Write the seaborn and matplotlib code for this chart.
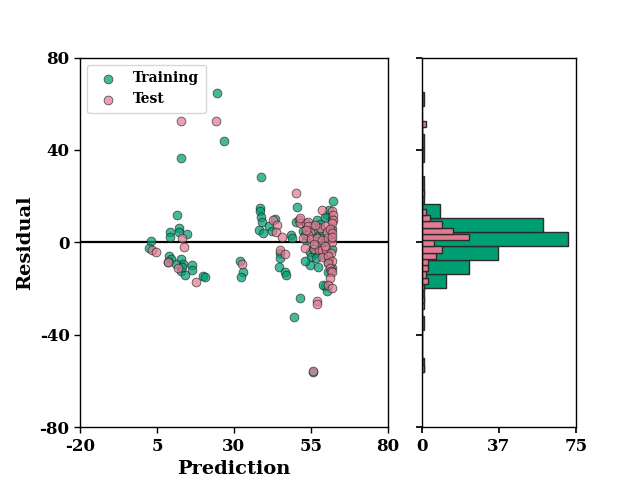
import numpy as np
import pandas as pd
import matplotlib
matplotlib.use("Agg")
import matplotlib.pyplot as plt
import seaborn as sns

# ---------------- data ----------------
train_x = [26.8, 24.5, 12.8, 11.6, 9.2, 9.2, 12.2, 12.2, 14.8, 3.05, 2.5, 9.0, 9.5, 8.5,
           12.8, 13.5, 16.5, 16.3, 12.7, 14.1, 20.1, 20.6, 31.9, 33.0, 32.3, 11.2, 13.0,
           38.8, 38.4, 38.4, 38.8, 39.0, 38.1, 39.3, 43.3, 41.5, 42.5, 48.7, 48.9, 44.9,
           44.9, 44.7, 46.6, 46.8, 51.4, 49.6, 55.7,
           50.6, 62.2, 50.3, 60.1, 59.5, 57.0, 58.0, 56.3, 55.7, 54.7, 56.3, 55.2, 56.8,
           54.7, 57.4, 61.7, 60.5, 59.5, 59.0, 60.1, 53.0, 58.3, 61.5, 62.0, 60.0, 53.5,
           52.5, 57.5, 59.0, 61.0, 62.0, 55.0, 53.0, 58.5, 60.5, 62.0, 61.0]
train_y = [43.7, 64.8, 36.5, 11.8, 4.7, 2.5, 6.1, 4.7, 3.5, 0.8, -2.5, -5.9, -7.3, -8.3,
           -7.3, -9.3, -9.8, -11.9, -12.4, -14.1, -14.4, -15.1, -8.0, -12.7, -14.8, -9.5, -10.5,
           28.3, 14.8, 13.4, 11.2, 9.0, 5.4, 4.0, 10.1, 6.9, 5.0, 3.3, 2.0, -4.7,
           -6.9, -10.5, -12.7, -14.1, -24.2, -32.1, -56.0,
           15.3, 18.0, 9.0, 11.9, 11.0, 9.5, 8.0, 4.0, -2.5, -4.0, -4.7, -6.2, -6.9,
           -9.8, -10.5, -11.2, -13.0, -18.9, -18.4, -21.0, -8.0, -1.0, 2.0, 6.0, 0.5, 1.0,
           5.0, 3.0, -5.5, -7.0, -3.0, 7.0, 3.0, 5.5, -9.0, 10.0, 14.0]

test_x = [12.8, 24.2, 13.2, 13.8, 3.3, 4.7, 8.7, 11.7, 17.6, 32.5, 42.8, 43.9, 43.6, 45.7,
          44.9, 46.6, 50.1, 57.0, 57.0, 55.7,
          51.1, 51.4, 53.4, 58.7, 61.7, 62.2, 62.2, 62.0, 51.4, 54.1, 54.1, 54.7, 54.1,
          57.9, 59.5, 60.1, 61.2, 62.0, 52.5, 55.0, 57.0, 58.5, 60.6, 61.7, 53.0, 56.0,
          57.5, 58.5, 60.0, 61.5, 58.5, 60.6, 61.7, 60.6, 61.2, 61.5, 62.0, 61.2, 60.6,
          61.7, 56.0, 59.5, 53.5, 56.5, 62.0]
test_y = [52.7, 52.7, 1.8, -2.1, -3.3, -4.3, -8.6, -11.2, -17.3, -9.5, 9.8, 7.6, 4.7, 2.5,
          -3.3, -5.0, 21.3, -25.5, -26.8, -55.5,
          9.8, 8.3, 8.3, 14.1, 13.4, 11.9, 9.8, 8.3, 10.5, 9.0, 6.9, 4.7, 3.3,
          6.1, 6.9, 4.7, 6.0, 4.0, 2.0, 1.5, 2.0, 1.0, 1.8, 0.3, -2.5, -3.0,
          -3.5, -3.3, -3.5, -4.5, -6.2, -6.0, -8.0, -9.0, -11.2, -12.5, -13.0, -15.6, -18.4,
          -19.9, -0.5, -1.5, 5.5, 7.5, 2.5]

# histogram bins and counts (bottom to top)
train_bin_lo, train_bin_hi, train_nbins = -56.28, 65.12, 20
train_counts = [1, 0, 0, 1, 0, 1, 12, 23, 37, 71, 59, 9, 1, 1, 0, 1, 1, 0, 0, 1]
test_bin_lo, test_bin_hi, test_nbins = -56.0, 52.6, 40
test_counts = [1, 0, 0, 0, 0, 0, 0, 0, 0, 0, 1, 1, 0, 1, 3, 2, 3, 3, 7, 10,
               6, 23, 15, 10, 4, 2, 0, 0, 1, 0, 0, 0, 0, 0, 0, 0, 0, 0, 0, 2]

x_ticks = [-20, 5, 30, 55, 80]
y_ticks = [-80, -40, 0, 40, 80]
hist_ticks = [0, 37.5, 75]
hist_tick_labels = ["0", "37", "75"]

train_color = "#009E73"
test_color = "#E17B93"

# ---------------- plot ----------------
sns.set_theme(style="ticks")
plt.rcParams["font.family"] = ["DejaVu Serif"]
plt.rcParams["font.weight"] = "bold"
plt.rcParams["axes.labelweight"] = "bold"
plt.rcParams["axes.unicode_minus"] = False
plt.rcParams["text.color"] = "black"
plt.rcParams["axes.labelcolor"] = "black"
plt.rcParams["xtick.color"] = "black"
plt.rcParams["ytick.color"] = "black"

fig = plt.figure(figsize=(6.4, 4.8), dpi=100)
ax = fig.add_axes([0.125, 0.11, 0.481, 0.77])
hax = fig.add_axes([0.659, 0.11, 0.2406, 0.77], sharey=ax)

df_train = pd.DataFrame({"pred": train_x, "res": train_y})
df_test = pd.DataFrame({"pred": test_x, "res": test_y})

sns.scatterplot(data=df_train, x="pred", y="res", ax=ax, color=train_color, s=40,
                alpha=0.72, edgecolor="#222222", linewidth=0.6, label="Training")
sns.scatterplot(data=df_test, x="pred", y="res", ax=ax, color=test_color, s=40,
                alpha=0.72, edgecolor="#222222", linewidth=0.6, label="Test")
ax.axhline(0, color="black", lw=1.6, zorder=0)

ax.set_xlim(-20, 80)
ax.set_ylim(-80, 80)
ax.set_xticks(x_ticks)
ax.set_yticks(y_ticks)
ax.set_xlabel("Prediction", fontsize=14, fontweight="bold", color="black")
ax.set_ylabel("Residual", fontsize=14, fontweight="bold", color="black")
ax.tick_params(labelsize=12, direction="out", length=4, width=1, colors="black")
for lab in ax.get_xticklabels() + ax.get_yticklabels():
    lab.set_fontweight("bold")
for s in ax.spines.values():
    s.set_color("black")
    s.set_linewidth(1)

leg = ax.legend(loc="upper left", prop={"weight": "bold", "size": 10, "family": "DejaVu Serif"},
                frameon=True, fancybox=True, borderpad=0.5, handletextpad=0.8,
                labelcolor="black")
leg.get_frame().set_edgecolor("#cccccc")

train_edges = list(np.linspace(train_bin_lo, train_bin_hi, train_nbins + 1))
test_edges = list(np.linspace(test_bin_lo, test_bin_hi, test_nbins + 1))
df_htrain = pd.DataFrame({
    "res": [(train_edges[i] + train_edges[i + 1]) / 2 for i in range(train_nbins)],
    "count": train_counts})
df_htest = pd.DataFrame({
    "res": [(test_edges[i] + test_edges[i + 1]) / 2 for i in range(test_nbins)],
    "count": test_counts})

sns.histplot(data=df_htrain, y="res", weights="count", bins=train_edges, ax=hax,
             color=train_color, alpha=1.0, edgecolor="#2b2b2b", linewidth=1.0)
sns.histplot(data=df_htest, y="res", weights="count", bins=test_edges, ax=hax,
             color=test_color, alpha=1.0, edgecolor="#2b2b2b", linewidth=1.0)

hax.set_xlim(0, 75)
hax.set_xticks(hist_ticks)
hax.set_xticklabels(hist_tick_labels)
hax.set_xlabel("")
hax.set_ylabel("")
hax.tick_params(labelsize=12, colors="black", length=4)
hax.tick_params(axis="y", labelleft=False)
for lab in hax.get_xticklabels():
    lab.set_fontweight("bold")
for s in hax.spines.values():
    s.set_color("black")
    s.set_linewidth(1)
hax.set_ylim(-80, 80)

fig.savefig("out.png", dpi=100)
